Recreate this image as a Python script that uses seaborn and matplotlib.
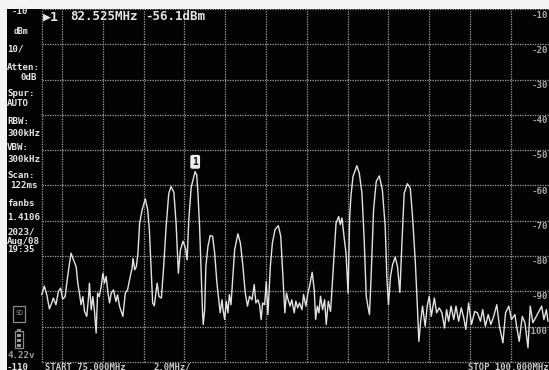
import matplotlib
matplotlib.use("Agg")
import matplotlib.pyplot as plt
from matplotlib.patches import Rectangle
import pandas as pd
import seaborn as sns

# trace
freq_mhz = [75.00, 75.13, 75.25, 75.38, 75.49, 75.57, 75.70, 75.82, 75.93, 76.03, 76.15, 76.23, 76.34, 76.44, 76.56,
            76.69, 76.77, 76.85, 76.93, 77.02, 77.10, 77.21, 77.30, 77.34, 77.43, 77.51, 77.59, 77.67, 77.74, 77.82,
            77.92, 78.00, 78.08, 78.16, 78.25, 78.33, 78.41, 78.52, 78.64, 78.72, 78.82, 78.98, 79.10, 79.21, 79.34,
            79.43, 79.48, 79.56, 79.64, 79.72, 79.80, 79.92, 80.08, 80.20, 80.28, 80.36, 80.44, 80.52, 80.66, 80.75,
            80.87, 80.98, 81.10, 81.23, 81.34, 81.48, 81.59, 81.70, 81.80, 81.93, 82.05, 82.13, 82.21, 82.33, 82.52,
            82.60, 82.66, 82.74, 82.82, 82.89, 82.92, 82.99, 83.05, 83.15, 83.26, 83.38, 83.48, 83.59, 83.67, 83.75,
            83.84, 83.89, 83.97, 84.05, 84.13, 84.20, 84.28, 84.36, 84.46, 84.62, 84.74, 84.85, 84.98, 85.09, 85.19,
            85.31, 85.42, 85.50, 85.60, 85.68, 85.76, 85.83, 85.93, 86.01, 86.09, 86.21, 86.31, 86.44, 86.60, 86.72,
            86.80, 86.92, 87.00, 87.08, 87.18, 87.26, 87.38, 87.46, 87.55, 87.64, 87.76, 87.84, 87.95, 88.05, 88.13,
            88.26, 88.36, 88.43, 88.51, 88.59, 88.67, 88.77, 88.87, 88.95, 89.05, 89.16, 89.23, 89.33, 89.43, 89.56,
            89.64, 89.72, 89.84, 89.92, 90.02, 90.10, 90.16, 90.26, 90.45, 90.57, 90.70, 90.81, 90.91, 90.99, 91.07,
            91.15, 91.27, 91.40, 91.55, 91.70, 91.84, 91.92, 92.00, 92.10, 92.20, 92.33, 92.44, 92.56, 92.66, 92.77,
            92.93, 93.07, 93.18, 93.31, 93.41, 93.49, 93.57, 93.67, 93.80, 93.90, 94.00, 94.10, 94.25, 94.36, 94.49,
            94.62, 94.75, 94.85, 94.95, 95.07, 95.20, 95.31, 95.44, 95.57, 95.69, 95.79, 95.93, 96.07, 96.23, 96.36,
            96.51, 96.62, 96.75, 96.89, 97.02, 97.16, 97.31, 97.44, 97.61, 97.74, 97.90, 98.03, 98.20, 98.28, 98.41,
            98.56, 98.69, 98.84, 98.95, 99.08, 99.21, 99.34, 99.51, 99.62, 99.74, 99.82]
level_dbm = [-91.0, -88.5, -91.0, -95.0, -93.3, -91.9, -93.8, -90.0, -89.1, -92.2, -91.5, -87.7, -83.0, -79.2, -81.1,
             -83.0, -87.7, -90.5, -93.8, -91.5, -95.7, -97.1, -91.5, -87.7, -95.2, -91.5, -95.7, -101.8, -90.5, -91.5,
             -88.6, -84.9, -87.7, -85.8, -90.5, -93.3, -90.5, -89.6, -92.9, -91.0, -94.3, -97.1, -90.5, -89.6, -85.8,
             -83.5, -80.7, -83.9, -83.0, -79.2, -70.8, -67.0, -63.8, -67.0, -72.7, -83.0, -93.3, -94.1, -87.7, -91.5,
             -91.9, -83.0, -71.7, -62.3, -60.3, -61.9, -70.8, -84.9, -78.3, -75.8, -77.8, -81.1, -69.9, -60.5, -56.1,
             -57.0, -62.2, -71.6, -84.8, -96.6, -99.4, -95.2, -82.9, -77.3, -74.2, -74.4, -79.2, -87.6, -91.9, -96.1,
             -92.4, -95.2, -98.0, -92.8, -96.1, -90.9, -93.8, -86.7, -78.2, -73.7, -76.3, -82.0, -90.5, -94.2, -91.4,
             -92.4, -88.1, -93.3, -92.4, -93.8, -98.0, -93.3, -93.8, -87.2, -96.6, -82.9, -76.3, -72.5, -71.4, -74.4,
             -82.9, -96.1, -90.5, -92.4, -94.2, -92.4, -96.1, -92.8, -94.7, -93.3, -95.2, -90.9, -94.2, -90.5, -88.6,
             -84.6, -89.5, -98.0, -94.2, -96.1, -91.4, -95.2, -92.4, -99.4, -92.8, -95.7, -89.5, -80.1, -70.7, -68.8,
             -71.1, -69.2, -75.4, -79.2, -90.5, -68.8, -63.1, -57.5, -54.4, -56.5, -62.2, -75.4, -91.4, -94.2, -96.6,
             -85.8, -66.9, -58.9, -57.3, -61.2, -71.6, -85.8, -93.8, -85.8, -82.5, -80.3, -82.9, -90.3, -76.3, -62.2,
             -59.5, -60.8, -68.8, -81.0, -93.3, -104.2, -99.0, -94.2, -99.9, -94.2, -91.4, -97.1, -91.9, -96.1, -94.7,
             -96.1, -100.4, -95.2, -98.5, -94.2, -98.0, -94.2, -98.5, -94.7, -97.5, -100.8, -93.3, -99.4, -95.7, -96.1,
             -98.5, -95.2, -99.9, -96.6, -99.4, -97.1, -93.8, -99.9, -104.6, -96.1, -94.2, -98.0, -96.6, -99.9, -104.2,
             -97.1, -98.9, -106.0, -94.2, -98.9, -97.5, -96.1, -94.2, -98.0, -95.2, -98.5]

grid_freqs = [75, 76, 78, 80, 82, 84, 86, 88, 90, 92, 94, 96, 98]
grid_levels = [-10, -20, -30, -40, -50, -60, -70, -80, -90, -100, -110]
right_labels = ["-10", "-20", "-30", "-40", "-50", "-60", "-70", "-80", "-90", "-100"]
marker_freq = 82.525
marker_level = -56.1

sns.set_style("dark")
W, H = 549, 370
fig = plt.figure(figsize=(W / 100, H / 100), dpi=100, facecolor="#f4f4f4")

# black screen, the scale is 20.4 px per MHz and 3.53 px per dB
ax = fig.add_axes([7 / W, 0, (W - 7) / W, (H - 9) / H])
ax.set_facecolor("#030303")
ax.set_xlim(73.30, 99.87)
ax.set_ylim(-112.3, -10)
ax.set_xticks([])
ax.set_yticks([])
for s in ax.spines.values():
    s.set_visible(False)

ax.hlines(grid_levels, 75, 99.87, color="#a0a0a0", lw=0.9, linestyles=(0, (1, 1)))
ax.vlines(grid_freqs, -110, -10, color="#a0a0a0", lw=0.9, linestyles=(0, (1, 1)))

df = pd.DataFrame({"freq": freq_mhz, "level": level_dbm})
sns.lineplot(data=df, x="freq", y="level", ax=ax, color="#e2e2e2", lw=1.0, estimator=None, sort=False, errorbar=None)
ax.set_xlabel("")
ax.set_ylabel("")

# marker flag above the peak
ax.annotate("1", (marker_freq, marker_level), xytext=(0, 3.5), textcoords="offset points", ha="center", va="bottom",
            fontsize=7, fontweight="bold", family="DejaVu Sans Mono", color="#111111",
            bbox=dict(boxstyle="round,pad=0.2", fc="#eeeeee", ec="none"))

# overlay in screen pixels for the instrument text
ov = fig.add_axes([0, 0, 1, 1])
ov.set_xlim(0, W)
ov.set_ylim(H, 0)
ov.axis("off")


def label(x, y, s, size=6.6, ha="left", color="#e4e4e4", weight="bold"):
    ov.text(x, y, s, fontsize=size, ha=ha, va="center", color=color, family="DejaVu Sans Mono", fontweight=weight)


label(28, 12, "-10", ha="right")
label(28, 32, "dBm", size=5.8, ha="right")
label(7, 49, "10/")
label(7, 67, "Atten:")
label(37, 77, "0dB", ha="right")
label(7, 94, "Spur:")
label(7, 104, "AUTO")
label(7, 122, "RBW:")
label(7, 133, "300kHz")
label(7, 148, "VBW:")
label(7, 159, "300kHz")
label(7, 176, "Scan:")
label(38, 186, "122ms", ha="right")
label(7, 204, "fanbs")
label(7, 218, "1.4106")
label(7, 232, "2023/")
label(7, 241, "Aug/08")
label(7, 250, "19:35")
label(7, 355, "4.22v", color="#9a9a9a")
label(7, 367, "-110")

label(43, 17, "\u25b61", size=9.5)
label(70, 17, "82.525MHz", size=9)
label(145, 17, "-56.1dBm", size=9)

label(45, 367, "START 75.000MHz", size=6.4, color="#c8c8c8")
label(153, 367, "2.0MHz/", size=6.4, color="#c8c8c8")
label(549, 367, "STOP 100.000MHz", size=6.4, ha="right", color="#c8c8c8")

for i, s in enumerate(right_labels):
    label(548, 15 + 35.2 * i, s, ha="right", color="#a8a8a8")

# sd card and battery icons
ov.add_patch(Rectangle((13, 306), 12, 16, fc="none", ec="#8a8a8a", lw=0.9))
label(19, 313, "SD", size=4.8, ha="center", color="#9a9a9a", weight="normal")
ov.add_patch(Rectangle((15, 331), 8, 17, fc="none", ec="#8a8a8a", lw=0.9))
ov.add_patch(Rectangle((17, 329), 4, 2, fc="#8a8a8a", ec="none"))
for y in [334, 339, 344]:
    ov.add_patch(Rectangle((17, y), 4, 3, fc="#9a9a9a", ec="none"))

fig.savefig("out.png", dpi=100, facecolor=fig.get_facecolor())
